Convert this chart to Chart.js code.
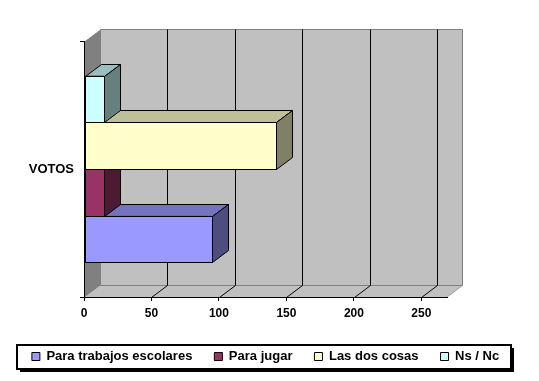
<!DOCTYPE html>
<html><head><meta charset="utf-8">
<style>html,body{margin:0;padding:0;background:#fff}canvas{display:block}</style>
<script src="https://cdn.jsdelivr.net/npm/chart.js@4"></script>
</head><body><canvas id="c" width="539" height="381"></canvas>
<script>
const categories = ["VOTOS"];
const seriesNames = ["Para trabajos escolares", "Para jugar", "Las dos cosas", "Ns / Nc"];
const trabajos = [95];
const jugar = [15];
const dosCosas = [142];
const nsNc = [15];
const xTicks = [0, 50, 100, 150, 200, 250];
const frontColors = ["#9999FF", "#993366", "#FFFFCC", "#CCFFFF"];
const topColors = ["#7373BF", "#73264D", "#BFBF99", "#99BFBF"];
const sideColors = ["#4D4D80", "#4D1A33", "#808066", "#668080"];
const DX = 16, DY = 12;
const FONT = "'Liberation Sans', Arial, sans-serif";

function poly(ctx, pts, fill, stroke) {
  ctx.beginPath();
  pts.forEach((p, i) => i ? ctx.lineTo(p[0], p[1]) : ctx.moveTo(p[0], p[1]));
  ctx.closePath();
  if (fill) { ctx.fillStyle = fill; ctx.fill(); }
  if (stroke) { ctx.strokeStyle = stroke; ctx.lineWidth = 1; ctx.stroke(); }
}
function line(ctx, x1, y1, x2, y2, c) {
  ctx.beginPath(); ctx.moveTo(x1, y1); ctx.lineTo(x2, y2);
  ctx.strokeStyle = c; ctx.lineWidth = 1; ctx.stroke();
}
function barRect(chart, i) {
  const p = chart.getDatasetMeta(i).data[0].getProps(["x", "y", "base", "height"], true);
  return {
    x0: Math.round(p.base) + 0.5, x1: Math.round(p.x) + 0.5,
    y0: Math.round(p.y - p.height / 2) + 0.5, y1: Math.round(p.y + p.height / 2) + 0.5
  };
}
const box3d = {
  id: "box3d",
  beforeDraw(chart) {
    const ctx = chart.ctx, a = chart.chartArea, xs = chart.scales.x;
    ctx.save();
    const L = Math.round(a.left) + 0.5, R = Math.round(a.right) - 0.5, T = Math.round(a.top) + 0.5, B = Math.round(a.bottom) + 0.5;
    poly(ctx, [[L + DX, T - DY], [R + DX, T - DY], [R + DX, B - DY], [L + DX, B - DY]], "#C0C0C0", "#808080");
    poly(ctx, [[L, B], [L + DX, B - DY], [R + DX, B - DY], [R, B]], "#C0C0C0", null);
    line(ctx, L + DX, B - DY, R + DX, B - DY, "#808080");
    line(ctx, R, B, R + DX, B - DY, "#A0A0A0");
    poly(ctx, [[L, T], [L + DX, T - DY], [L + DX, B - DY], [L, B]], "#808080", null);
    xTicks.slice(1).forEach(v => {
      const x = Math.round(xs.getPixelForValue(v)) + 0.5;
      line(ctx, x + DX, T - DY, x + DX, B - DY, "#000");
      line(ctx, x, B, x + DX, B - DY, "#000");
    });
    ctx.fillStyle = "#000"; ctx.fillRect(20, 348, 494, 24);
    ctx.fillStyle = "#fff"; ctx.fillRect(17, 345, 494, 24);
    ctx.strokeStyle = "#000"; ctx.lineWidth = 2; ctx.strokeRect(17, 345, 494, 24);
    ctx.restore();
  },
  beforeDatasetDraw(chart, args) {
    const ctx = chart.ctx, i = args.index, r = barRect(chart, i);
    ctx.save();
    poly(ctx, [[r.x0, r.y0], [r.x0 + DX, r.y0 - DY], [r.x1 + DX, r.y0 - DY], [r.x1, r.y0]], topColors[i], "#000");
    poly(ctx, [[r.x1, r.y0], [r.x1 + DX, r.y0 - DY], [r.x1 + DX, r.y1 - DY], [r.x1, r.y1]], sideColors[i], "#000");
    ctx.restore();
  },
  afterDatasetDraw(chart, args) {
    const ctx = chart.ctx, i = args.index, r = barRect(chart, i);
    ctx.save();
    poly(ctx, [[r.x0, r.y0], [r.x1, r.y0], [r.x1, r.y1], [r.x0, r.y1]], frontColors[i], "#000");
    ctx.restore();
  }
};
const values = [trabajos, jugar, dosCosas, nsNc];
new Chart(document.getElementById("c"), {
  type: "bar",
  plugins: [box3d],
  data: {
    labels: categories,
    datasets: seriesNames.map((n, i) => ({
      label: n,
      data: values[i],
      order: 4 - i,
      backgroundColor: frontColors[i],
      borderColor: "#000",
      borderWidth: 1,
      borderSkipped: false,
      categoryPercentage: 0.73,
      barPercentage: 1
    }))
  },
  options: {
    indexAxis: "y",
    responsive: false,
    animation: false,
    layout: { padding: { top: 41, left: 0, right: 8, bottom: 8 } },
    scales: {
      x: {
        min: 0, max: 269,
        afterFit(s) { s.height = 31; },
        border: { color: "#000", width: 1 },
        grid: { drawOnChartArea: false, drawTicks: true, tickLength: 4, color: "#000" },
        ticks: { stepSize: 50, includeBounds: false, maxRotation: 0, color: "#000", padding: 5,
                 font: { family: FONT, size: 12, weight: "bold" },
                 callback: v => xTicks.includes(v) ? String(v) : "" }
      },
      y: {
        afterFit(s) { s.width = 84; },
        border: { color: "#000", width: 1 },
        grid: { drawOnChartArea: false, drawTicks: true, tickLength: 4, color: "#000" },
        ticks: { color: "#000", padding: 6, font: { family: FONT, size: 13, weight: "bold" } }
      },
      spacer: {
        type: "linear", position: "right", axis: "y",
        afterFit(s) { s.width = 84; },
        border: { display: false },
        grid: { display: false },
        ticks: { display: false }
      }
    },
    plugins: {
      tooltip: { enabled: false },
      title: { display: false },
      legend: {
        display: true, position: "bottom", reverse: true,
        labels: { boxWidth: 8, boxHeight: 8, padding: 22, color: "#000",
                  font: { family: FONT, size: 13, weight: "bold" } }
      }
    }
  }
});
</script></body></html>
